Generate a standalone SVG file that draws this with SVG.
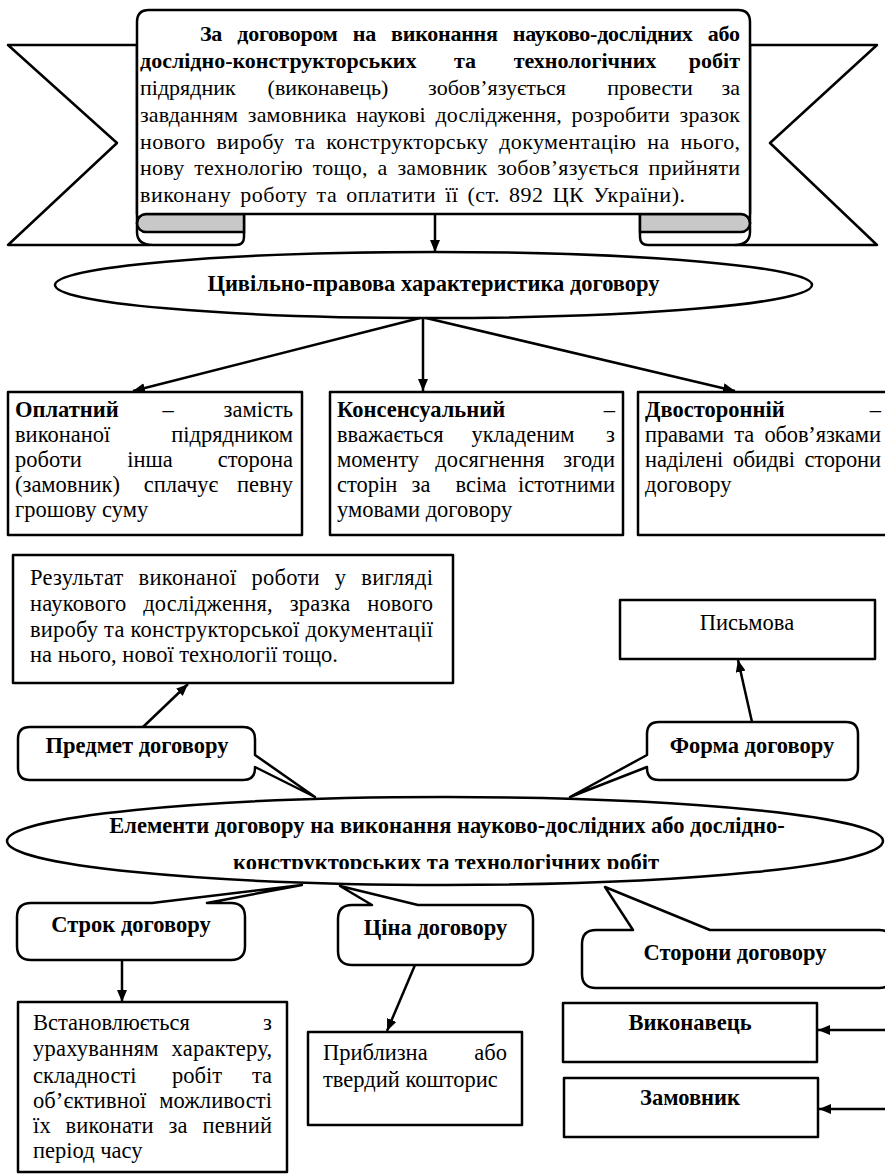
<svg xmlns="http://www.w3.org/2000/svg" width="885" height="1176" viewBox="0 0 885 1176">
<style>
.t{font-family:"Liberation Serif","Times New Roman",serif;font-size:22.5px;fill:#000}
.bn{font-size:22px}
.b{font-weight:bold}
.s{fill:#fff;stroke:#000;stroke-width:2.5;stroke-linejoin:round}
.g{fill:#c8c8c8;stroke:#000;stroke-width:2.5}
.c{stroke:#000;stroke-width:2.5;fill:none}
.m{text-anchor:middle}
.e{text-anchor:end}
</style>
<defs>
<marker id="ah" viewBox="0 0 12 10" refX="12" refY="5" markerWidth="12" markerHeight="10" markerUnits="userSpaceOnUse" orient="auto"><path d="M0,0 L12,5 L0,10 Z" fill="#000"/></marker>
<clipPath id="clipE2"><rect x="0" y="790" width="885" height="79"/></clipPath>
</defs>
<rect width="885" height="1176" fill="#fff"/>

<g id="banner">
<path class="s" d="M137,45 L8,45 L117,143 L8,245 L150,245 L150,214 L137,214 Z"/>
<path class="s" d="M750,45 L877,45 L770,143 L877,245 L735,245 L735,214 L750,214 Z"/>
<path class="s" d="M137,223 V232 Q137,245 153,245 H236 Q244,245 244,237 V214 H146 A9,9 0 0 0 137,223 Z"/>
<path class="g" d="M244,214 H146 A9,9 0 0 0 146,232 H244 Z"/>
<path class="s" d="M750,223 V232 Q750,245 734,245 H648 Q640,245 640,237 V214 H741 A9,9 0 0 1 750,223 Z"/>
<path class="g" d="M640,214 H741 A9,9 0 0 1 741,232 H640 Z"/>
<path class="s" d="M137,223 V22 Q137,10 149,10 H738 Q750,10 750,22 V223 A9,9 0 0 0 741,214 H146 A9,9 0 0 0 137,223 Z"/>
<text class="t bn b" x="200" y="41" textLength="540" lengthAdjust="spacing" style="word-spacing:10px">За договором на виконання науково-дослідних або</text>
<text class="t bn b" x="140" y="68">дослідно-конструкторських</text>
<text class="t bn b m" x="465" y="68">та</text>
<text class="t bn b m" x="585" y="68">технологічних</text>
<text class="t bn b e" x="740" y="68">робіт</text>
<text class="t bn" x="140" y="95">підрядник</text>
<text class="t bn m" x="328" y="95">(виконавець)</text>
<text class="t bn m" x="497" y="95">зобов’язується</text>
<text class="t bn m" x="650" y="95">провести</text>
<text class="t bn e" x="740" y="95">за</text>
<text class="t bn" x="140" y="121.5" textLength="600" lengthAdjust="spacing" style="word-spacing:4px">завданням замовника наукові дослідження, розробити зразок</text>
<text class="t bn" x="140" y="148.5" textLength="600" lengthAdjust="spacing" style="word-spacing:5px">нового виробу та конструкторську документацію на нього,</text>
<text class="t bn" x="140" y="175" textLength="600" lengthAdjust="spacing" style="word-spacing:4px">нову технологію тощо, а замовник зобов’язується прийняти</text>
<text class="t bn" x="140" y="202" textLength="545" lengthAdjust="spacing" style="word-spacing:3px">виконану роботу та оплатити її (ст. 892 ЦК України).</text>
</g>

<g id="char-ellipse">
<ellipse class="s" cx="433.5" cy="285" rx="378.5" ry="33"/>
<text class="t b m" x="433.5" y="291">Цивільно-правова характеристика договору</text>
</g>

<g id="box-oplatnyi">
<rect class="s" x="8" y="392" width="294" height="143"/>
<text class="t b" x="15" y="417">Оплатний</text>
<text class="t m" x="168" y="417">–</text>
<text class="t e" x="293" y="417">замість</text>
<text class="t" x="15" y="442">виконаної</text>
<text class="t e" x="293" y="442">підрядником</text>
<text class="t" x="15" y="467">роботи</text>
<text class="t m" x="150" y="467">інша</text>
<text class="t e" x="293" y="467">сторона</text>
<text class="t" x="15" y="492">(замовник)</text>
<text class="t m" x="181" y="492">сплачує</text>
<text class="t e" x="293" y="492">певну</text>
<text class="t" x="15" y="517">грошову суму</text>
</g>

<g id="box-konsensualnyi">
<rect class="s" x="330" y="392" width="293" height="143"/>
<text class="t b" x="337" y="417">Консенсуальний</text>
<text class="t e" x="615" y="417">–</text>
<text class="t" x="337" y="442">вважається</text>
<text class="t m" x="523" y="442">укладеним</text>
<text class="t e" x="615" y="442">з</text>
<text class="t" x="337" y="467">моменту</text>
<text class="t m" x="490" y="467">досягнення</text>
<text class="t e" x="615" y="467">згоди</text>
<text class="t" x="337" y="492">сторін</text>
<text class="t m" x="421" y="492">за</text>
<text class="t m" x="481" y="492">всіма</text>
<text class="t e" x="615" y="492">істотними</text>
<text class="t" x="337" y="517">умовами договору</text>
</g>

<g id="box-dvostoronnii">
<rect class="s" x="638" y="392" width="257" height="143"/>
<text class="t b" x="645" y="417">Двосторонній</text>
<text class="t e" x="881" y="417">–</text>
<text class="t" x="645" y="442" textLength="236" lengthAdjust="spacing" style="word-spacing:5px">правами та обов’язками</text>
<text class="t" x="645" y="467" textLength="236" lengthAdjust="spacing" style="word-spacing:4px">наділені обидві сторони</text>
<text class="t" x="645" y="492">договору</text>
</g>

<g id="box-rezultat">
<rect class="s" x="13" y="555" width="440" height="128"/>
<text class="t" x="30" y="585" textLength="403" lengthAdjust="spacing" style="word-spacing:9px">Результат виконаної роботи у вигляді</text>
<text class="t" x="30" y="611" textLength="403" lengthAdjust="spacing" style="word-spacing:11px">наукового дослідження, зразка нового</text>
<text class="t" x="30" y="637" textLength="403" lengthAdjust="spacing">виробу та конструкторської документації</text>
<text class="t" x="30" y="662">на нього, нової технології тощо.</text>
</g>

<g id="box-pysmova">
<rect class="s" x="620" y="600" width="255" height="59"/>
<text class="t m" x="747" y="630">Письмова</text>
</g>

<g id="callout-predmet">
<path class="s" d="M30,727 H243 Q255,727 255,739 V755 L315,797 L255,767 V768 Q255,780 243,780 H30 Q18,780 18,768 V739 Q18,727 30,727 Z"/>
<text class="t b m" x="137" y="753">Предмет договору</text>
</g>

<g id="callout-forma">
<path class="s" d="M659,722 H846 Q858,722 858,734 V768 Q858,780 846,780 H659 Q647,780 647,768 V767 L570,797 L647,755 V734 Q647,722 659,722 Z"/>
<text class="t b m" x="752" y="753">Форма договору</text>
</g>

<g id="elements-ellipse">
<ellipse class="s" cx="445" cy="841" rx="438" ry="44"/>
<text class="t b m" x="447" y="833">Елементи договору на виконання науково-дослідних або дослідно-</text>
<text class="t b m" x="446" y="870" clip-path="url(#clipE2)">конструкторських та технологічних робіт</text>
</g>

<g id="callout-strok">
<path class="s" d="M31,903 H152 L302,885 L207,903 H231 Q245,903 245,917 V946 Q245,960 231,960 H31 Q17,960 17,946 V917 Q17,903 31,903 Z"/>
<text class="t b m" x="131" y="932">Строк договору</text>
</g>

<g id="callout-tsina">
<path class="s" d="M352,905 H372 L340,886 L418,905 H519 Q533,905 533,919 V951 Q533,965 519,965 H352 Q338,965 338,951 V919 Q338,905 352,905 Z"/>
<text class="t b m" x="435.5" y="935">Ціна договору</text>
</g>

<g id="callout-storony">
<path class="s" d="M596,930 H633 L605,887 L710,930 H879 Q893,930 893,944 V974 Q893,988 879,988 H596 Q582,988 582,974 V944 Q582,930 596,930 Z"/>
<text class="t b m" x="735" y="960">Сторони договору</text>
</g>

<g id="box-strok">
<rect class="s" x="18" y="1002" width="269" height="170"/>
<text class="t" x="33" y="1030">Встановлюється</text>
<text class="t e" x="272" y="1030">з</text>
<text class="t" x="33" y="1056" textLength="239" lengthAdjust="spacing" style="word-spacing:7px">урахуванням характеру,</text>
<text class="t" x="33" y="1083">складності</text>
<text class="t m" x="197" y="1083">робіт</text>
<text class="t e" x="272" y="1083">та</text>
<text class="t" x="33" y="1108" textLength="239" lengthAdjust="spacing" style="word-spacing:7px">об’єктивної можливості</text>
<text class="t" x="33" y="1133" textLength="239" lengthAdjust="spacing" style="word-spacing:9px">їх виконати за певний</text>
<text class="t" x="33" y="1158">період часу</text>
</g>

<g id="box-kostorys">
<rect class="s" x="308" y="1032" width="214" height="93"/>
<text class="t" x="323" y="1060">Приблизна</text>
<text class="t e" x="507" y="1060">або</text>
<text class="t" x="323" y="1087">твердий кошторис</text>
</g>

<g id="box-vykonavets">
<rect class="s" x="563" y="1003" width="254" height="59"/>
<text class="t b m" x="690" y="1030">Виконавець</text>
</g>

<g id="box-zamovnyk">
<rect class="s" x="564" y="1078" width="254" height="59"/>
<text class="t b m" x="690" y="1105">Замовник</text>
</g>

<g id="connectors">
<path class="c" d="M435,214 L435,252" marker-end="url(#ah)"/>
<path class="c" d="M420,318 L133,391" marker-end="url(#ah)"/>
<path class="c" d="M423,318 L423,391" marker-end="url(#ah)"/>
<path class="c" d="M426,318 L735,391" marker-end="url(#ah)"/>
<path class="c" d="M143,727 L188,684" marker-end="url(#ah)"/>
<path class="c" d="M752,722 L738,660" marker-end="url(#ah)"/>
<path class="c" d="M122,960 L122,1002" marker-end="url(#ah)"/>
<path class="c" d="M415,965 L387,1031" marker-end="url(#ah)"/>
<path class="c" d="M885,1030 L818,1030" marker-end="url(#ah)"/>
<path class="c" d="M885,1109 L819,1109" marker-end="url(#ah)"/>
</g>
</svg>
